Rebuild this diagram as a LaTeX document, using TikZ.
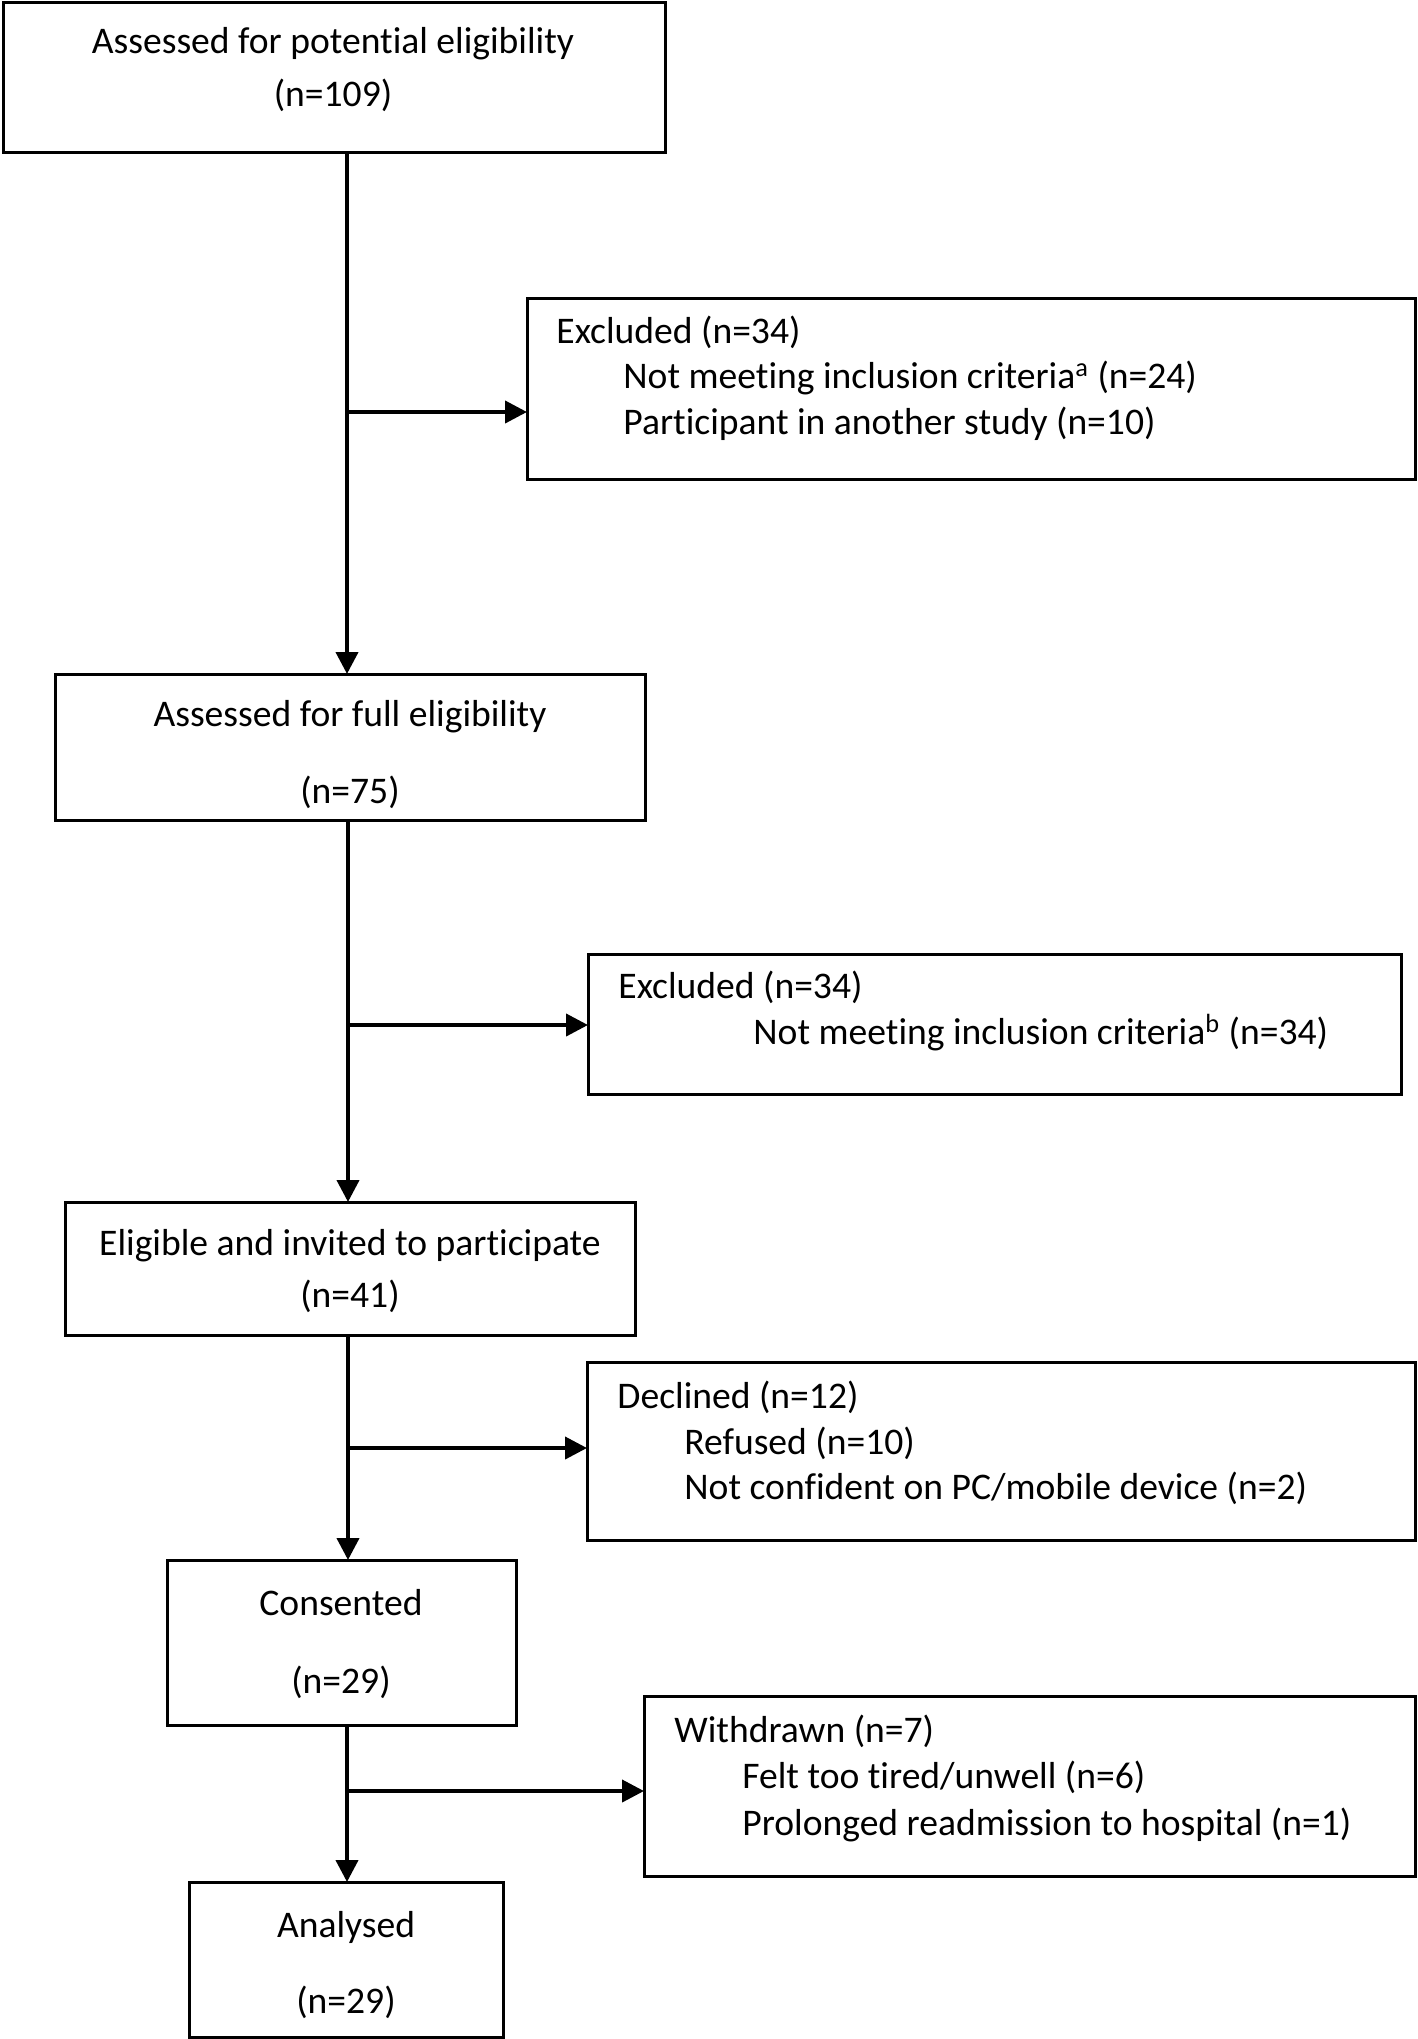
\documentclass[tikz,border=0pt]{standalone}
\usepackage{fontspec}
\setmainfont{Carlito}[Ligatures={NoCommon}]
\usetikzlibrary{fit,arrows.meta}
\begin{document}
\begin{tikzpicture}[x=0.5pt,y=-0.5pt,
  box/.style={draw, line width=1.5pt, inner sep=0pt, outer sep=0pt},
  txt/.style={font=\fontsize{18.8}{22}\selectfont, inner sep=0pt},
  ltxt/.style={txt, anchor=mid west},
  conn/.style={line width=2pt},
  arr/.style={line width=2pt, -{Triangle[length=11pt,width=11pt]}}]
\useasboundingbox (0,0) rectangle (1418,2039);
% boxes
\node[box, fit={(3,3) (665,152)}] (b1) {};
\node[box, fit={(527,298) (1415,479)}] (e1) {};
\node[box, fit={(55,674) (645,820)}] (b2) {};
\node[box, fit={(588,954) (1401,1094)}] (e2) {};
\node[box, fit={(65,1202) (635,1335)}] (b3) {};
\node[box, fit={(587,1362) (1415,1540)}] (e3) {};
\node[box, fit={(167,1560) (516,1725)}] (b4) {};
\node[box, fit={(644,1696) (1415,1876)}] (e4) {};
\node[box, fit={(189,1882) (503,2037)}] (b5) {};
% texts
\node[txt] (b1a) at (333,44) {Assessed for potential eligibility};
\node[txt] (b1b) at (333,95) {(n=109)};
\node[ltxt] (e1a) at (556,339) {Excluded (n=34)};
\node[ltxt] (e1b) at (623,384) {Not meeting inclusion criteria\textsuperscript{a} (n=24)};
\node[ltxt] (e1c) at (623,430) {Participant in another study (n=10)};
\node[txt] (b2a) at (350,717) {Assessed for full eligibility};
\node[txt] (b2b) at (350,792) {(n=75)};
\node[ltxt] (e2a) at (618,994) {Excluded (n=34)};
\node[ltxt] (e2b) at (753,1040) {Not meeting inclusion criteria\textsuperscript{b} (n=34)};
\node[txt] (b3a) at (350,1246) {Eligible and invited to participate};
\node[txt] (b3b) at (350,1296) {(n=41)};
\node[ltxt] (e3a) at (617,1404) {Declined (n=12)};
\node[ltxt] (e3b) at (684,1450) {Refused (n=10)};
\node[ltxt] (e3c) at (684,1495) {Not confident on PC/mobile device (n=2)};
\node[txt] (b4a) at (341,1603) {Consented};
\node[txt] (b4b) at (341,1682) {(n=29)};
\node[ltxt] (e4a) at (674,1738) {Withdrawn (n=7)};
\node[ltxt] (e4b) at (742,1784) {Felt too tired/unwell (n=6)};
\node[ltxt] (e4c) at (742,1831) {Prolonged readmission to hospital (n=1)};
\node[txt] (b5a) at (346,1927) {Analysed};
\node[txt] (b5b) at (346,2002) {(n=29)};
% connectors
\coordinate (t1) at (347,412);
\coordinate (t2) at (348,1025);
\coordinate (t3) at (348,1448);
\coordinate (t4) at (347,1791);
\draw[conn] (b1.south -| t1) -- (t1);
\draw[arr] (t1) -- (b2.north -| t1);
\draw[arr] (t1) -- (e1.west |- t1);
\draw[conn] (b2.south -| t2) -- (t2);
\draw[arr] (t2) -- (b3.north -| t2);
\draw[arr] (t2) -- (e2.west |- t2);
\draw[conn] (b3.south -| t3) -- (t3);
\draw[arr] (t3) -- (b4.north -| t3);
\draw[arr] (t3) -- (e3.west |- t3);
\draw[conn] (b4.south -| t4) -- (t4);
\draw[arr] (t4) -- (b5.north -| t4);
\draw[arr] (t4) -- (e4.west |- t4);
\end{tikzpicture}
\end{document}
